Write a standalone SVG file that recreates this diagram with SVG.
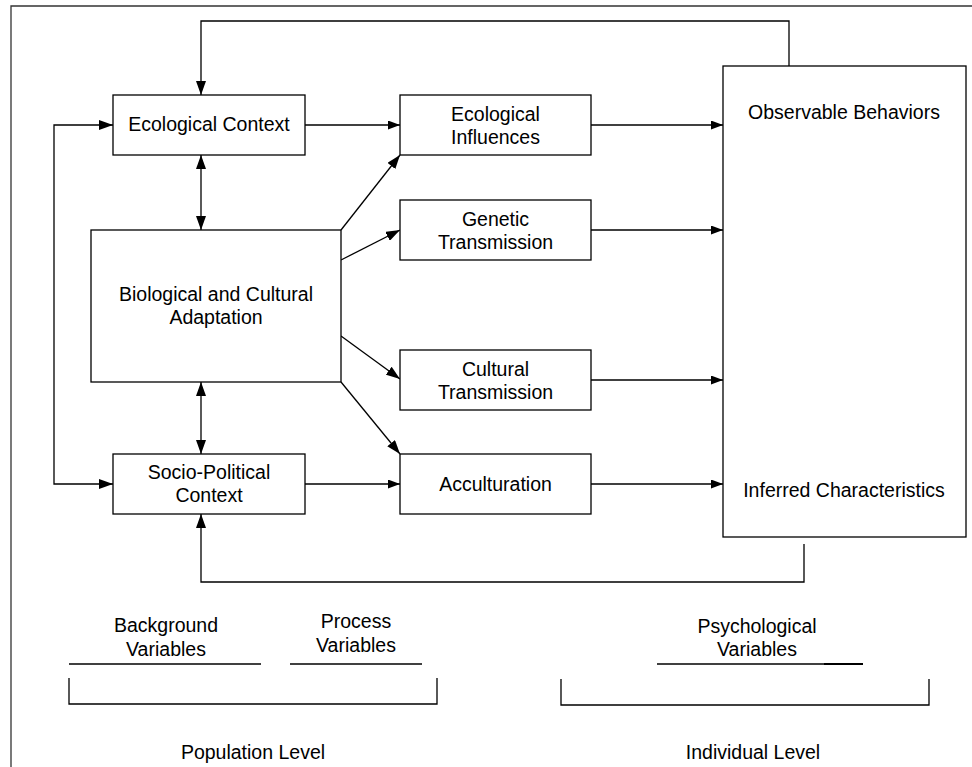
<svg xmlns="http://www.w3.org/2000/svg" width="972" height="767" viewBox="0 0 972 767">
<style>
  .box { fill: #fff; stroke: #000; stroke-width: 1.3; }
  .ln { fill: none; stroke: #000; stroke-width: 1.3; }
  .frame { fill: none; stroke: #333; stroke-width: 1.3; }
  text { font-family: "Liberation Sans", Arial, sans-serif; font-size: 19.5px; fill: #000; text-anchor: middle; }
</style>
<defs>
  <marker id="ah" viewBox="0 0 14 10" refX="14" refY="5" markerWidth="14" markerHeight="10" markerUnits="userSpaceOnUse" orient="auto-start-reverse">
    <path d="M0,0 L14,5 L0,10 Z" fill="#000"/>
  </marker>
  <marker id="ahs" viewBox="0 0 12 9" refX="12" refY="4.5" markerWidth="12" markerHeight="9" markerUnits="userSpaceOnUse" orient="auto-start-reverse">
    <path d="M0,0 L12,4.5 L0,9 Z" fill="#000"/>
  </marker>
</defs>
<rect width="972" height="767" fill="#fff"/>
<path class="frame" d="M11,767 V6 H975"/>

<g id="connectors">
  <path class="ln" d="M789,66 V21 H201 V95" marker-end="url(#ah)"/>
  <path class="ln" d="M113,125 H54 V484 H113" marker-start="url(#ah)" marker-end="url(#ah)"/>
  <path class="ln" d="M305,125 H400" marker-end="url(#ahs)"/>
  <path class="ln" d="M201,155 V230" marker-start="url(#ah)" marker-end="url(#ah)"/>
  <path class="ln" d="M201,382 V454" marker-start="url(#ah)" marker-end="url(#ah)"/>
  <path class="ln" d="M305,484 H400" marker-end="url(#ahs)"/>
  <path class="ln" d="M341,230 L400,155" marker-end="url(#ah)"/>
  <path class="ln" d="M341,260 L400,230" marker-end="url(#ah)"/>
  <path class="ln" d="M341,336 L400,379" marker-end="url(#ah)"/>
  <path class="ln" d="M341,382 L400,454" marker-end="url(#ah)"/>
  <path class="ln" d="M591,125 H723" marker-end="url(#ahs)"/>
  <path class="ln" d="M591,230 H723" marker-end="url(#ahs)"/>
  <path class="ln" d="M591,380 H723" marker-end="url(#ahs)"/>
  <path class="ln" d="M591,484 H723" marker-end="url(#ahs)"/>
  <path class="ln" d="M804,544 V582 H201 V514" marker-end="url(#ah)"/>
</g>

<g id="ecological-context">
  <rect class="box" x="113" y="95" width="192" height="60"/>
  <text x="209" y="131">Ecological Context</text>
</g>
<g id="bio-cultural-adaptation">
  <rect class="box" x="91" y="230" width="250" height="152"/>
  <text x="216" y="301">Biological and Cultural</text>
  <text x="216" y="324">Adaptation</text>
</g>
<g id="socio-political-context">
  <rect class="box" x="113" y="454" width="192" height="60"/>
  <text x="209" y="479">Socio-Political</text>
  <text x="209" y="501.5">Context</text>
</g>
<g id="ecological-influences">
  <rect class="box" x="400" y="95" width="191" height="60"/>
  <text x="495.5" y="121">Ecological</text>
  <text x="495.5" y="143.5">Influences</text>
</g>
<g id="genetic-transmission">
  <rect class="box" x="400" y="200" width="191" height="60"/>
  <text x="495.5" y="226">Genetic</text>
  <text x="495.5" y="248.5">Transmission</text>
</g>
<g id="cultural-transmission">
  <rect class="box" x="400" y="350" width="191" height="60"/>
  <text x="495.5" y="376">Cultural</text>
  <text x="495.5" y="398.5">Transmission</text>
</g>
<g id="acculturation">
  <rect class="box" x="400" y="454" width="191" height="60"/>
  <text x="495.5" y="491">Acculturation</text>
</g>
<g id="psychological-outcomes">
  <rect class="box" x="723" y="66" width="243" height="471"/>
  <text x="844" y="119">Observable Behaviors</text>
  <text x="844" y="497">Inferred Characteristics</text>
</g>

<g id="legend">
  <text x="166" y="632">Background</text>
  <text x="166" y="655.5">Variables</text>
  <path class="ln" d="M69,664 H261"/>
  <text x="356" y="628">Process</text>
  <text x="356" y="652">Variables</text>
  <path class="ln" d="M290,664 H422"/>
  <path class="ln" d="M69,678 V704 H437 V678"/>
  <text x="253" y="759">Population Level</text>

  <text x="757" y="632.5">Psychological</text>
  <text x="757" y="656">Variables</text>
  <path class="ln" d="M657,664 H863"/>
  <path d="M824,664 H863" stroke="#000" stroke-width="2"/>
  <path class="ln" d="M561,679 V705 H929 V679"/>
  <text x="753" y="758.5">Individual Level</text>
</g>
</svg>
